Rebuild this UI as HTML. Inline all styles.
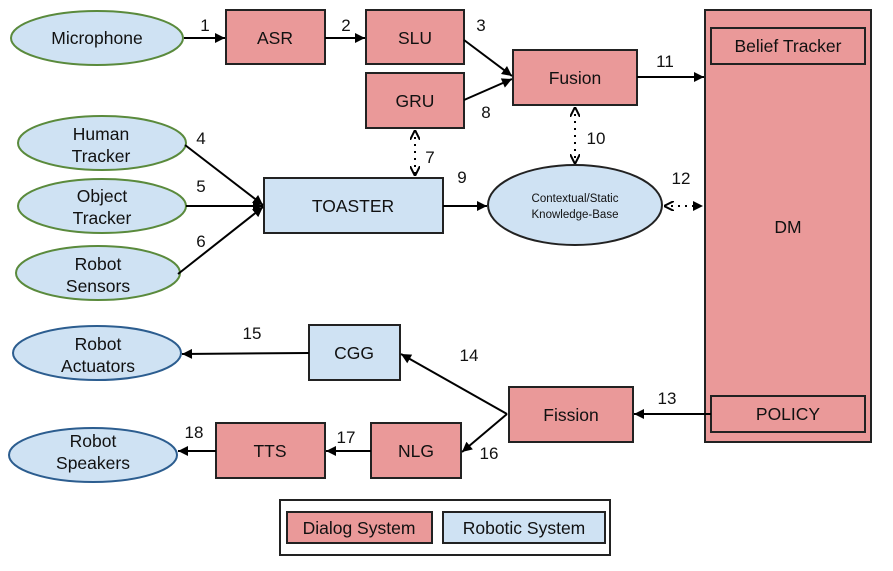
<!DOCTYPE html>
<html><head><meta charset="utf-8"><style>
html,body{margin:0;padding:0;background:#fff;}
svg{display:block;font-family:"Liberation Sans",Arial,sans-serif;}
</style></head><body>
<svg width="893" height="571" viewBox="0 0 893 571" xmlns="http://www.w3.org/2000/svg">
<defs>
<marker id="a" viewBox="0 0 10 10" refX="10" refY="5" markerWidth="12" markerHeight="10" markerUnits="userSpaceOnUse" orient="auto-start-reverse"><path d="M0,0 L10,5 L0,10 z" fill="#000"/></marker>
<marker id="o" viewBox="0 0 10 10" refX="10" refY="5" markerWidth="10" markerHeight="10" markerUnits="userSpaceOnUse" orient="auto-start-reverse"><path d="M0,0 L10,5 L0,10" fill="none" stroke="#000" stroke-width="2"/></marker>
</defs>
<g stroke="#222" stroke-width="2" fill="#ea9999">
<rect x="226" y="10" width="99" height="54"/>
<rect x="366" y="10" width="98" height="54"/>
<rect x="366" y="73" width="98" height="55"/>
<rect x="513" y="50" width="124" height="55"/>
<rect x="705" y="10" width="166" height="432"/>
<rect x="711" y="28" width="154" height="36"/>
<rect x="711" y="396" width="154" height="36"/>
<rect x="509" y="387" width="124" height="55"/>
<rect x="371" y="423" width="90" height="55"/>
<rect x="216" y="423" width="109" height="55"/>
<rect x="287" y="512" width="145" height="31"/>
</g>
<g stroke="#222" stroke-width="2" fill="#cfe2f3">
<rect x="264" y="178" width="179" height="55"/>
<rect x="309" y="325" width="91" height="55"/>
<rect x="443" y="512" width="162" height="31"/>
<ellipse cx="575" cy="205" rx="87" ry="40"/>
</g>
<rect x="280" y="500" width="330" height="55" fill="none" stroke="#222" stroke-width="2"/>
<g stroke="#5a8a3c" stroke-width="2" fill="#cfe2f3">
<ellipse cx="97" cy="38" rx="86" ry="27"/>
<ellipse cx="102" cy="143" rx="84" ry="27"/>
<ellipse cx="102" cy="206" rx="84" ry="27"/>
<ellipse cx="98" cy="273" rx="82" ry="27"/>
</g>
<g stroke="#2c5d8f" stroke-width="2" fill="#cfe2f3">
<ellipse cx="97" cy="353" rx="84" ry="27"/>
<ellipse cx="93" cy="455" rx="84" ry="27"/>
</g>
<g stroke="#000" stroke-width="2" fill="none">
<line x1="184" y1="38" x2="225" y2="38" marker-end="url(#a)"/>
<line x1="325" y1="38" x2="365" y2="38" marker-end="url(#a)"/>
<line x1="464" y1="40" x2="512" y2="76" marker-end="url(#a)"/>
<line x1="464" y1="100" x2="512" y2="79" marker-end="url(#a)"/>
<line x1="637" y1="77" x2="704" y2="77" marker-end="url(#a)"/>
<line x1="185" y1="145" x2="263" y2="205" marker-end="url(#a)"/>
<line x1="186" y1="206" x2="263" y2="206" marker-end="url(#a)"/>
<line x1="178" y1="274" x2="263" y2="207" marker-end="url(#a)"/>
<line x1="443" y1="206" x2="487" y2="206" marker-end="url(#a)"/>
<line x1="711" y1="414" x2="634" y2="414" marker-end="url(#a)"/>
<line x1="507" y1="414" x2="401" y2="354" marker-end="url(#a)"/>
<line x1="507" y1="414" x2="462" y2="452" marker-end="url(#a)"/>
<line x1="309" y1="353" x2="182" y2="354" marker-end="url(#a)"/>
<line x1="371" y1="451" x2="326" y2="451" marker-end="url(#a)"/>
<line x1="216" y1="451" x2="178" y2="451" marker-end="url(#a)"/>
</g>
<g stroke="#000" stroke-width="2" fill="none" stroke-dasharray="2,5">
<line x1="415" y1="130" x2="415" y2="176" marker-start="url(#o)" marker-end="url(#o)"/>
<line x1="575" y1="107" x2="575" y2="164" marker-start="url(#o)" marker-end="url(#o)"/>
<line x1="664" y1="206" x2="703" y2="206" marker-start="url(#o)" marker-end="url(#a)"/>
</g>
<g font-size="17.5" fill="#111" text-anchor="middle">
<text x="97" y="44">Microphone</text>
<text x="275" y="44">ASR</text>
<text x="415" y="44">SLU</text>
<text x="415" y="107">GRU</text>
<text x="575" y="84">Fusion</text>
<text x="788" y="52">Belief Tracker</text>
<text x="788" y="233">DM</text>
<text x="788" y="420">POLICY</text>
<text x="101" y="140">Human</text>
<text x="101" y="162">Tracker</text>
<text x="102" y="202">Object</text>
<text x="102" y="224">Tracker</text>
<text x="98" y="270">Robot</text>
<text x="98" y="292">Sensors</text>
<text x="353" y="212">TOASTER</text>
<text x="354" y="359">CGG</text>
<text x="571" y="421">Fission</text>
<text x="416" y="457">NLG</text>
<text x="270" y="457">TTS</text>
<text x="98" y="350">Robot</text>
<text x="98" y="372">Actuators</text>
<text x="93" y="447">Robot</text>
<text x="93" y="469">Speakers</text>
<text x="359" y="534">Dialog System</text>
<text x="524" y="534">Robotic System</text>
</g>
<g font-size="11.5" fill="#111" text-anchor="middle">
<text x="575" y="202">Contextual/Static</text>
<text x="575" y="218">Knowledge-Base</text>
</g>
<g font-size="17" fill="#111" text-anchor="middle">
<text x="205" y="31">1</text>
<text x="346" y="31">2</text>
<text x="481" y="31">3</text>
<text x="486" y="118">8</text>
<text x="665" y="67">11</text>
<text x="596" y="144">10</text>
<text x="430" y="163">7</text>
<text x="201" y="144">4</text>
<text x="201" y="192">5</text>
<text x="201" y="247">6</text>
<text x="462" y="183">9</text>
<text x="681" y="184">12</text>
<text x="252" y="339">15</text>
<text x="469" y="361">14</text>
<text x="667" y="404">13</text>
<text x="489" y="459">16</text>
<text x="346" y="443">17</text>
<text x="194" y="438">18</text>
</g>
</svg>
</body></html>
